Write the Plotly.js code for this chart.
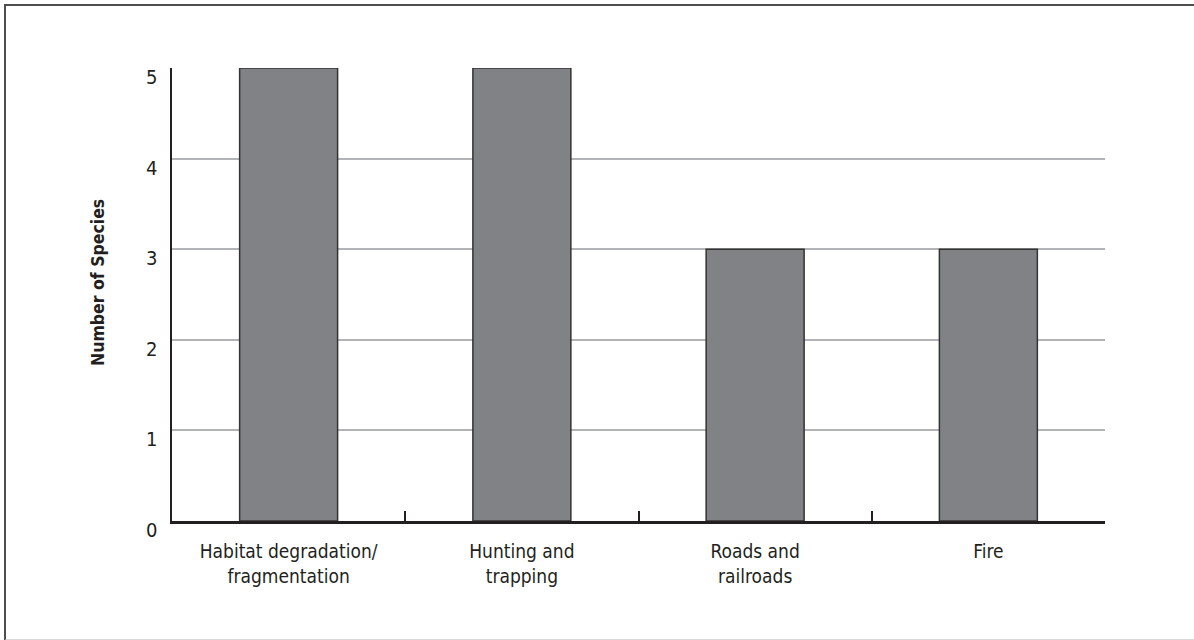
<!DOCTYPE html>
<html>
<head>
<meta charset="utf-8">
<script src="https://cdn.plot.ly/plotly-3.0.1.min.js"></script>
<style>
  html, body { margin: 0; padding: 0; background: #fff; overflow: hidden; }
  #frame { position: absolute; left: 4px; top: 4px; width: 1220px; height: 633px;
           border-top: 2px solid #4d4d4f; border-left: 2px solid #4d4d4f; border-bottom: 2px solid #d9d9d9; }
  #chart { position: absolute; left: 0; top: 0; width: 1194px; height: 640px; }
</style>
</head>
<body>
<div id="frame"></div>
<div id="chart"></div>
<script>
const categories = ["Habitat degradation/<br>fragmentation", "Hunting and<br>trapping", "Roads and<br>railroads", "Fire"];
const speciesCounts = [5, 5, 3, 3];
const yTickValues = [0, 1, 2, 3, 4, 5];
const yTitle = "Number of Species";

const FONT = '"DejaVu Sans Condensed", "Liberation Sans Narrow", sans-serif';
const INK = '#231f20';

const trace = {
  type: 'bar',
  x: categories,
  y: speciesCounts,
  width: 0.42,
  marker: { color: '#808285', line: { color: '#333333', width: 1.5 } },
  hoverinfo: 'skip'
};

const layout = {
  width: 1194, height: 640,
  margin: { l: 172, r: 89, t: 68, b: 119 },
  paper_bgcolor: 'rgba(0,0,0,0)',
  plot_bgcolor: 'rgba(0,0,0,0)',
  showlegend: false,
  font: { family: FONT, color: INK },
  xaxis: {
    type: 'category',
    range: [-0.5, 3.5],
    tickson: 'boundaries',
    ticks: 'inside', ticklen: 10, tickwidth: 2, tickcolor: INK,
    showline: true, linecolor: INK, linewidth: 2.5,
    showgrid: false,
    tickfont: { family: FONT, size: 19, color: INK },
    ticklabelstandoff: 12
  },
  yaxis: {
    range: [0, 5],
    tickvals: yTickValues,
    ticks: '',
    showline: true, linecolor: INK, linewidth: 2.5,
    showgrid: true, gridcolor: '#b1b3b6', gridwidth: 2,
    zeroline: false,
    tickfont: { family: FONT, size: 20, color: INK },
    ticklabelstandoff: 8,
    ticklabelshift: 9
  },
  annotations: [{
    text: '<b>' + yTitle + '</b>',
    xref: 'paper', yref: 'paper',
    x: (98 - 172) / 933, y: (521 - 283) / 453,
    xanchor: 'center', yanchor: 'middle',
    textangle: -90, showarrow: false,
    font: { family: FONT, size: 17.5, color: INK }
  }]
};

Plotly.newPlot('chart', [trace], layout, { displayModeBar: false, staticPlot: true });
</script>
</body>
</html>
